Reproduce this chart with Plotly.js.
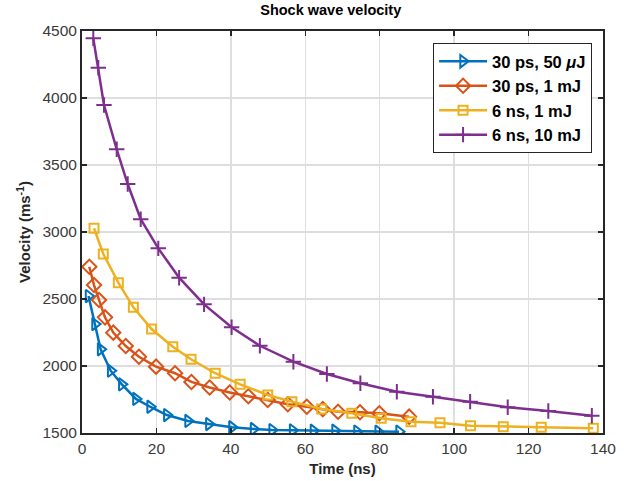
<!DOCTYPE html>
<html>
<head>
<meta charset="utf-8">
<script src="https://cdn.plot.ly/plotly-3.0.1.min.js"></script>
<style>html,body{margin:0;padding:0;background:#fff;}#plot{width:630px;height:481px;}</style>
</head>
<body>
<div id="plot"></div>
<script>
// Series names
const seriesNames = ["30 ps, 50 <i>μ</i>J", "30 ps, 1 mJ", "6 ns, 1 mJ", "6 ns, 10 mJ"];

// 30 ps, 50 µJ
const tBlue = [1.75, 3.5, 5.0, 7.7, 10.7, 14.5, 18.3, 22.8, 28.5, 34.1, 40.3, 46.1, 51.1, 56.6, 62.2, 68.0, 73.9, 79.6, 85.2];
const vBlue = [2522, 2313, 2125, 1965, 1863, 1754, 1696, 1634, 1590, 1567, 1543, 1530, 1522, 1520, 1517, 1517, 1511, 1510, 1510];

// 30 ps, 1 mJ
const tOrange = [1.96, 3.23, 4.57, 6.18, 8.41, 11.75, 15.3, 19.9, 25.0, 29.4, 34.3, 39.7, 44.7, 49.9, 55.3, 60.4, 64.7, 68.8, 74.7, 79.9, 87.9];
const vOrange = [2741, 2604, 2493, 2363, 2249, 2149, 2069, 1995, 1946, 1881, 1840, 1802, 1774, 1746, 1715, 1696, 1678, 1659, 1655, 1647, 1622];

// 6 ns, 1 mJ
const tYellow = [3.23, 5.73, 9.76, 13.8, 18.7, 24.4, 29.3, 35.8, 42.5, 49.9, 56.4, 64.4, 72.5, 80.4, 88.4, 96.2, 104.4, 113.2, 123.4, 137.4];
const vYellow = [3028, 2836, 2622, 2438, 2276, 2144, 2050, 1946, 1863, 1784, 1734, 1679, 1647, 1610, 1584, 1577, 1554, 1547, 1543, 1535];

// 6 ns, 10 mJ
const tPurple = [3.04, 4.38, 5.91, 9.33, 12.28, 15.78, 20.5, 26.1, 32.8, 40.2, 47.8, 56.8, 65.8, 74.8, 84.6, 94.3, 104.3, 114.4, 125.3, 137.0];
const vPurple = [4445, 4226, 3948, 3617, 3358, 3095, 2878, 2659, 2460, 2289, 2151, 2032, 1940, 1871, 1808, 1771, 1734, 1692, 1664, 1629];

const xTicks = [0, 20, 40, 60, 80, 100, 120, 140];
const yTicks = [1500, 2000, 2500, 3000, 3500, 4000, 4500];

const colors = ["#0072BD", "#D95319", "#EDB120", "#7E2F8E"];
const symbols = ["triangle-right-open", "diamond-open", "square-open", "cross-thin-open"];
const sizes = [11, 11, 9, 11];
const xs = [tBlue, tOrange, tYellow, tPurple];
const ys = [vBlue, vOrange, vYellow, vPurple];

const traces = xs.map((x, i) => ({
  x: x, y: ys[i], name: seriesNames[i], type: "scatter", mode: "lines+markers",
  line: {color: colors[i], width: 2.5},
  marker: {symbol: symbols[i], size: sizes[i], color: colors[i], line: {color: colors[i], width: 2}}
}));

const font = "Liberation Sans, Arial, Helvetica, sans-serif";
const layout = {
  width: 630, height: 481,
  margin: {l: 82, r: 27, t: 31, b: 48},
  paper_bgcolor: "#fff", plot_bgcolor: "#fff",
  font: {family: font, size: 15, color: "#262626"},
  title: {text: "Shock wave velocity", font: {family: font, size: 14.5, color: "#000", weight: "bold"}, x: 0.525, xanchor: "center", y: 0.99, yanchor: "top"},
  xaxis: {
    range: [0, 140], tickvals: xTicks, ticktext: xTicks.map(String),
    showgrid: true, gridcolor: "#dedede", gridwidth: 1.5,
    showline: true, linecolor: "#262626", linewidth: 2, mirror: "ticks",
    ticks: "inside", ticklen: 5, tickwidth: 1.5, tickcolor: "#262626",
    zeroline: false, tickfont: {size: 15.5, color: "#3a3a3a"},
    title: {text: "Time (ns)", font: {size: 15, color: "#262626", weight: "bold"}, standoff: 8}
  },
  yaxis: {
    range: [1500, 4500], tickvals: yTicks, ticktext: yTicks.map(String),
    showgrid: true, gridcolor: "#dedede", gridwidth: 1.5,
    showline: true, linecolor: "#262626", linewidth: 2, mirror: "ticks",
    ticks: "inside", ticklen: 5, tickwidth: 1.5, tickcolor: "#262626",
    zeroline: false, tickfont: {size: 15.5, color: "#3a3a3a"},
    title: {text: "Velocity (ms<sup>-1</sup>)", font: {size: 15, color: "#262626", weight: "bold"}, standoff: 8}
  },
  legend: {
    x: 0.979, y: 0.97, xanchor: "right", yanchor: "top",
    bgcolor: "#fff", bordercolor: "#262626", borderwidth: 1,
    font: {size: 16.5, color: "#000", weight: "bold"},
    itemwidth: 48
  },
  showlegend: true
};

Plotly.newPlot("plot", traces, layout, {displayModeBar: false, staticPlot: true});
</script>
</body>
</html>
